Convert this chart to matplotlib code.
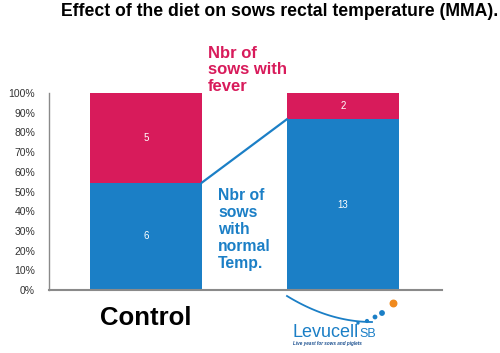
import matplotlib
matplotlib.use("Agg")
import matplotlib.pyplot as plt
import numpy as np

categories = ["Control", "Levucell SB"]
normal = [6, 13]
fever = [5, 2]
ytick_labels = ["0%", "10%", "20%", "30%", "40%", "50%", "60%", "70%", "80%", "90%", "100%"]

BLUE = "#1b7fc6"
PINK = "#d81b5b"

plt.rcParams['font.family'] = ['Liberation Sans', 'DejaVu Sans']

fig = plt.figure(figsize=(5.0, 3.53), dpi=100)
ax = fig.add_axes([49/500, 1-290/353, (442-49)/500, (290-93)/353])

tot = np.array(normal) + np.array(fever)
pn = np.array(normal) / tot * 100
pf = np.array(fever) / tot * 100
x = np.arange(len(categories))
w = 0.569
ax.bar(x, pn, width=w, color=BLUE)
ax.bar(x, pf, width=w, bottom=pn, color=PINK)
for i in range(len(x)):
    ax.text(x[i], pn[i] / 2, str(normal[i]), color="white", ha="center", va="center", fontsize=7)
    ax.text(x[i], pn[i] + pf[i] / 2, str(fever[i]), color="white", ha="center", va="center", fontsize=7)
ax.plot([x[0] + w / 2, x[1] - w / 2], [pn[0], pn[1]], color=BLUE, lw=1.6)

ax.set_xlim(-0.492, 1.503)
ax.set_ylim(0, 100)
ax.set_yticks(np.arange(0, 101, 10))
ax.set_yticklabels(ytick_labels, fontsize=7.5, color="#333333")
ax.tick_params(axis='y', length=0, pad=10)
ax.set_xticks([])
for s in ["top", "right"]:
    ax.spines[s].set_visible(False)
ax.spines["left"].set_color("#8a8a8a")
ax.spines["bottom"].set_color("#8a8a8a")
ax.spines["left"].set_linewidth(1.0)
ax.spines["bottom"].set_linewidth(1.5)

fig.text(498/500, 1-11/353, "Effect of the diet on sows rectal temperature (MMA).",
         ha="right", va="center", fontsize=12.7, fontweight="bold", color="black")

fig.text(208/500, 1-46/353, "Nbr of\nsows with\nfever", ha="left", va="top",
         fontsize=12, fontweight="bold", color=PINK, linespacing=1.12)
fig.text(218/500, 1-188/353, "Nbr of\nsows\nwith\nnormal\nTemp.", ha="left", va="top",
         fontsize=11.3, fontweight="bold", color=BLUE, linespacing=1.17)

fig.text(146/500, 1-318/353, categories[0], ha="center", va="center",
         fontsize=18.5, fontweight="bold", color="black")

# Logo-like label for second category
fig.text(292/500, 1-337/353, "Levucell", ha="left", va="baseline", fontsize=13,
         color=BLUE, family=["Liberation Sans Narrow", "Liberation Sans"])
fig.text(359/500, 1-337/353, "SB", ha="left", va="baseline", fontsize=9, color=BLUE,
         family=["Liberation Sans Narrow", "Liberation Sans"])
fig.text(293/500, 1-344/353, "Live yeast for sows and piglets", ha="left", va="center",
         fontsize=3.3, style="italic", fontweight="bold", color="#1a4f8f")
lax = fig.add_axes([0, 0, 1, 1], facecolor="none")
lax.set_xlim(0, 500); lax.set_ylim(353, 0); lax.axis("off")
t = np.linspace(0, 1, 60)
cx = 287 + 85 * t
cy = 296 + 26 * (1 - (1 - t) ** 2)
lax.plot(cx, cy, color=BLUE, lw=1.3)
lax.scatter([358, 367, 375, 382], [323, 321, 317, 313], s=[2, 4, 6, 10], color=BLUE, zorder=3)
lax.scatter([393], [303], s=22, color="#f08a1e", zorder=3)

fig.savefig("out.png", dpi=100)
